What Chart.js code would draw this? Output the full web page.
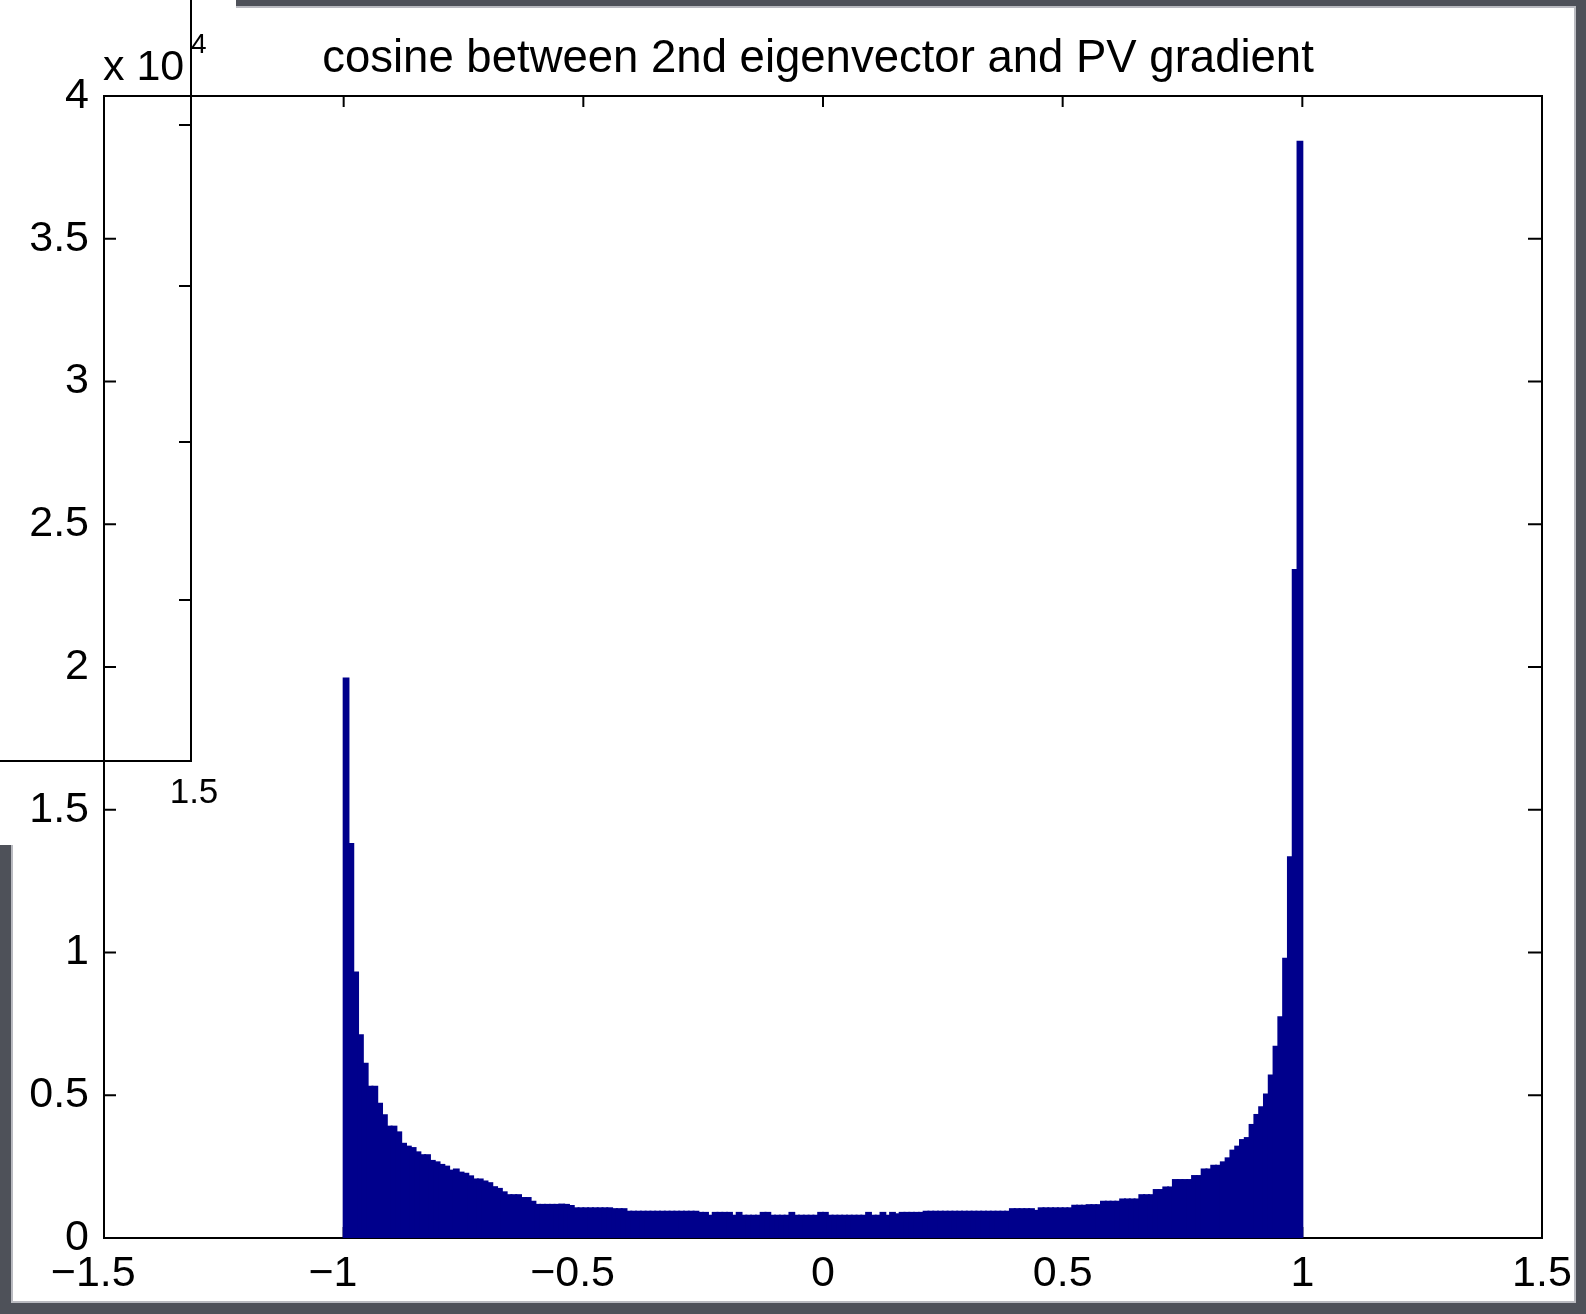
<!DOCTYPE html>
<html>
<head>
<meta charset="utf-8">
<title>cosine between 2nd eigenvector and PV gradient</title>
<script src="https://cdn.jsdelivr.net/npm/chart.js@4/dist/chart.umd.min.js"></script>
<style>
  html, body { margin: 0; padding: 0; background: #4e5159; }
  canvas { display: block; }
</style>
</head>
<body>
<canvas id="hist" width="1586" height="1314"></canvas>
<script>
// histogram bins: 200 equal bins over [-1, 1]
const binStart = -1;
const binWidth = 0.01;

// counts per bin (left to right)
const counts = [
  19600, 13800, 9300, 7100, 6100, 5300, 5300, 4700, 4300, 3900,
  3900, 3700, 3300, 3200, 3150, 3000, 2900, 2900, 2700, 2650,
  2560, 2500, 2360, 2400, 2290, 2250, 2160, 2050, 2050, 1980,
  1920, 1780, 1720, 1600, 1500, 1500, 1500, 1400, 1400, 1270,
  1160, 1160, 1160, 1160, 1160, 1170, 1160, 1120, 1040, 1040,
  1040, 1040, 1040, 1040, 1040, 1040, 1010, 1010, 1010, 920,
  920, 920, 920, 920, 920, 920, 920, 920, 920, 920,
  920, 920, 920, 920, 880, 880, 780, 880, 880, 880,
  880, 780, 880, 780, 780, 780, 780, 880, 880, 780,
  780, 780, 780, 880, 780, 780, 780, 780, 780, 880,
  880, 780, 780, 780, 780, 780, 780, 780, 780, 880,
  780, 780, 880, 780, 880, 830, 880, 880, 880, 880,
  880, 920, 920, 920, 920, 920, 920, 920, 920, 920,
  920, 920, 920, 920, 920, 920, 920, 920, 920, 1010,
  1010, 1010, 1010, 1010, 950, 1040, 1040, 1040, 1040, 1040,
  1040, 1040, 1130, 1130, 1130, 1150, 1150, 1150, 1270, 1270,
  1270, 1270, 1350, 1350, 1350, 1350, 1500, 1500, 1500, 1680,
  1680, 1770, 1770, 2030, 2030, 2030, 2030, 2170, 2170, 2400,
  2400, 2530, 2530, 2650, 2790, 3060, 3200, 3430, 3500, 3960,
  4310, 4580, 5030, 5690, 6700, 7730, 9780, 13340, 23400, 38400
];

// axis ticks
const xTicks = [-1.5, -1, -0.5, 0, 0.5, 1, 1.5];
const yTicks = [0, 5000, 10000, 15000, 20000, 25000, 30000, 35000, 40000];
const yScaleFactor = 1e4;

const titleText = 'cosine between 2nd eigenvector and PV gradient';
const barColor = 'rgb(0, 0, 140)';
const font = "'Liberation Sans', Arial, Helvetica, sans-serif";

const points = counts.map((c, i) => ({ x: binStart + (i + 0.5) * binWidth, y: c }));

function fmt(v) {
  const s = String(Math.round(v * 10) / 10);
  // MATLAB centres the number and hangs the minus sign in front of it
  return v < 0 ? '\u2212' + s.slice(1) + '\u2002' : s;
}

const decor = {
  id: 'decor',
  beforeDraw(chart) {
    const ctx = chart.ctx;
    ctx.save();
    ctx.fillStyle = '#4e5159';
    ctx.fillRect(0, 0, chart.width, chart.height);
    ctx.fillStyle = '#ffffff';
    ctx.fillRect(12, 7, 1563, 1295);
    ctx.strokeStyle = '#b9bac0';
    ctx.lineWidth = 2;
    ctx.strokeRect(12, 7, 1563, 1295);
    ctx.fillStyle = '#ffffff';
    ctx.fillRect(0, 0, 236, 845);
    ctx.restore();
  },
  beforeDatasetsDraw(chart) {
    const { ctx, chartArea: a, scales: { x, y } } = chart;
    ctx.save();
    ctx.strokeStyle = '#000';
    ctx.lineWidth = 2;
    ctx.beginPath();
    ctx.moveTo(a.left, a.top);
    ctx.lineTo(a.right, a.top);
    ctx.lineTo(a.right, a.bottom);
    x.ticks.forEach(t => {
      const px = x.getPixelForValue(t.value);
      ctx.moveTo(px, a.top); ctx.lineTo(px, a.top + 11);
      ctx.moveTo(px, a.bottom); ctx.lineTo(px, a.bottom - 11);
    });
    y.ticks.forEach(t => {
      const py = y.getPixelForValue(t.value);
      ctx.moveTo(a.left, py); ctx.lineTo(a.left + 12, py);
      ctx.moveTo(a.right, py); ctx.lineTo(a.right - 14, py);
    });
    ctx.stroke();
    ctx.restore();
  },
  afterDraw(chart) {
    const { ctx, chartArea: a } = chart;
    ctx.save();
    ctx.fillStyle = '#000';
    // title
    ctx.font = '45.5px ' + font;
    ctx.textAlign = 'center';
    ctx.textBaseline = 'alphabetic';
    ctx.fillText(titleText, 818, 72);
    // exponent label
    ctx.textAlign = 'left';
    ctx.font = '43px ' + font;
    ctx.fillText('x 10', a.left - 1, 80);
    ctx.font = '28px ' + font;
    ctx.fillText('4', 191, 53);
    // leftover axes of another figure overlapping the corner
    ctx.strokeStyle = '#000';
    ctx.lineWidth = 2;
    ctx.beginPath();
    ctx.moveTo(191, 0);
    ctx.lineTo(191, 761);
    ctx.lineTo(0, 761);
    [125, 286, 442, 600].forEach(py => { ctx.moveTo(191, py); ctx.lineTo(179, py); });
    ctx.stroke();
    ctx.font = '35px ' + font;
    ctx.textAlign = 'center';
    ctx.fillText('1.5', 194, 803);
    ctx.restore();
  }
};

new Chart(document.getElementById('hist'), {
  type: 'bar',
  data: {
    datasets: [{
      label: 'count',
      data: points,
      backgroundColor: barColor,
      borderColor: barColor,
      borderWidth: 0,
      inflateAmount: 1,
      barPercentage: 1,
      categoryPercentage: 1
    }]
  },
  options: {
    responsive: false,
    animation: false,
    layout: { padding: { top: 96, right: 44, bottom: 0, left: 0 } },
    plugins: {
      legend: { display: false },
      title: { display: false },
      tooltip: { enabled: false }
    },
    scales: {
      x: {
        type: 'linear',
        offset: false,
        min: xTicks[0],
        max: xTicks[xTicks.length - 1],
        afterBuildTicks: s => { s.ticks = xTicks.map(v => ({ value: v })); },
        afterFit: s => { s.height = 76; },
        grid: { display: false, drawTicks: false, offset: false },
        border: { display: true, color: '#000', width: 2 },
        ticks: {
          color: '#000',
          font: { family: font, size: 43 },
          padding: 10,
          maxRotation: 0,
          autoSkip: false,
          callback: v => fmt(v)
        }
      },
      y: {
        min: yTicks[0],
        max: yTicks[yTicks.length - 1],
        afterBuildTicks: s => { s.ticks = yTicks.map(v => ({ value: v })); },
        afterFit: s => { s.width = 104; },
        grid: { display: false, drawTicks: false },
        border: { display: true, color: '#000', width: 2 },
        ticks: {
          color: '#000',
          font: { family: font, size: 43 },
          padding: 15,
          autoSkip: false,
          callback: v => fmt(v / yScaleFactor)
        }
      }
    }
  },
  plugins: [decor]
});
</script>
</body>
</html>
